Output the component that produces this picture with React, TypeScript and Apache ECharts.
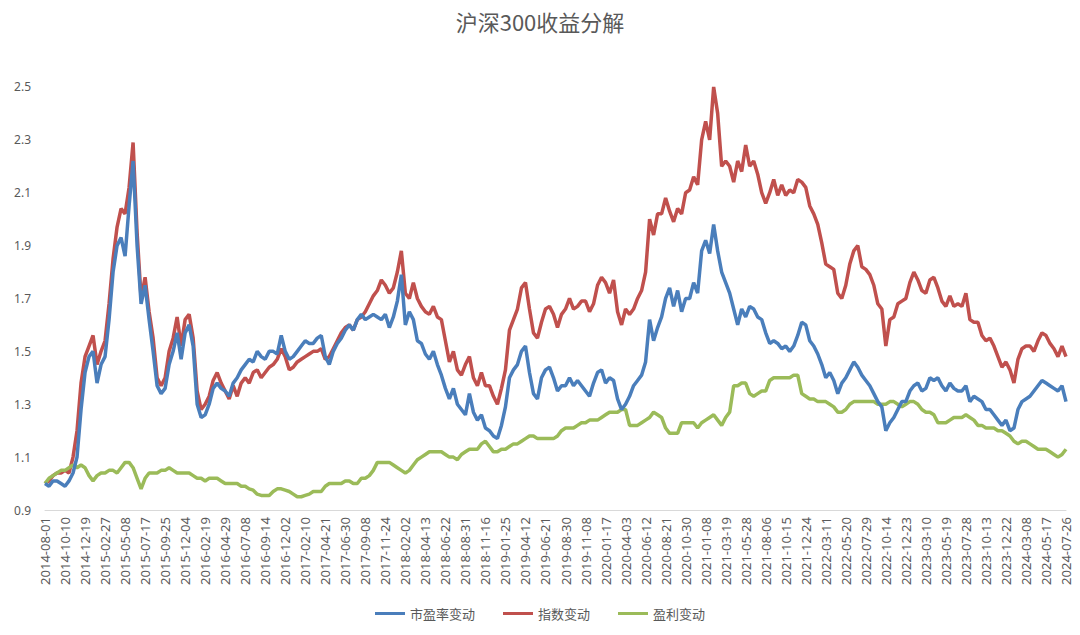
import React, { useEffect, useRef } from "react";
import * as echarts from "echarts";

// Tick labels shown on the x axis (every 10 weeks)
const tickLabels = [
  "2014-08-01", "2014-10-10", "2014-12-19", "2015-02-27", "2015-05-08", "2015-07-17",
  "2015-09-25", "2015-12-04", "2016-02-19", "2016-04-29", "2016-07-08", "2016-09-14",
  "2016-12-02", "2017-02-10", "2017-04-21", "2017-06-30", "2017-09-08", "2017-11-24",
  "2018-02-02", "2018-04-13", "2018-06-22", "2018-08-31", "2018-11-16", "2019-01-25",
  "2019-04-12", "2019-06-21", "2019-08-30", "2019-11-08", "2020-01-17", "2020-04-03",
  "2020-06-12", "2020-08-21", "2020-10-30", "2021-01-08", "2021-03-19", "2021-05-28",
  "2021-08-06", "2021-10-15", "2021-12-24", "2022-03-11", "2022-05-20", "2022-07-29",
  "2022-10-14", "2022-12-23", "2023-03-10", "2023-05-19", "2023-07-28", "2023-10-13",
  "2023-12-22", "2024-03-08", "2024-05-17", "2024-07-26",
];

// 市盈率变动 (bi-weekly samples)
const peChange = [
  1.00, 0.99, 1.01, 1.01, 1.00,
  0.99, 1.01, 1.04, 1.10, 1.28,
  1.42, 1.48, 1.50, 1.38, 1.45,
  1.48, 1.62, 1.80, 1.90, 1.93,
  1.86, 2.05, 2.22, 1.90, 1.68,
  1.75, 1.62, 1.50, 1.37, 1.34,
  1.36, 1.45, 1.50, 1.57, 1.47,
  1.57, 1.60, 1.52, 1.30, 1.25,
  1.26, 1.30, 1.36, 1.38, 1.36,
  1.35, 1.33, 1.38, 1.40, 1.43,
  1.45, 1.47, 1.46, 1.50, 1.48,
  1.47, 1.50, 1.50, 1.49, 1.56,
  1.50, 1.47, 1.48, 1.50, 1.52,
  1.54, 1.53, 1.53, 1.55, 1.56,
  1.48, 1.45, 1.50, 1.53, 1.55,
  1.58, 1.60, 1.58, 1.62, 1.64,
  1.62, 1.63, 1.64, 1.63, 1.62,
  1.64, 1.59, 1.63, 1.69, 1.79,
  1.60, 1.65, 1.62, 1.54, 1.53,
  1.49, 1.47, 1.50, 1.45, 1.41,
  1.36, 1.32, 1.36, 1.30, 1.28,
  1.26, 1.34, 1.27, 1.24, 1.26,
  1.21, 1.20, 1.18, 1.17, 1.22,
  1.29, 1.40, 1.43, 1.45, 1.50,
  1.52, 1.42, 1.34, 1.32, 1.40,
  1.43, 1.44, 1.40, 1.35, 1.37,
  1.37, 1.40, 1.37, 1.39, 1.37,
  1.35, 1.33, 1.38, 1.42, 1.43,
  1.38, 1.40, 1.39, 1.32, 1.28,
  1.30, 1.33, 1.37, 1.39, 1.41,
  1.46, 1.62, 1.54, 1.59, 1.63,
  1.70, 1.74, 1.67, 1.73, 1.65,
  1.70, 1.70, 1.76, 1.72, 1.88,
  1.92, 1.87, 1.98, 1.88, 1.80,
  1.76, 1.72, 1.66, 1.60, 1.66,
  1.63, 1.67, 1.66, 1.63, 1.62,
  1.57, 1.53, 1.54, 1.53, 1.51,
  1.52, 1.50, 1.52, 1.56, 1.61,
  1.60, 1.54, 1.52, 1.49, 1.45,
  1.40, 1.42, 1.39, 1.34, 1.38,
  1.40, 1.43, 1.46, 1.44, 1.41,
  1.39, 1.37, 1.34, 1.31, 1.29,
  1.20, 1.23, 1.25, 1.28, 1.31,
  1.31, 1.35, 1.37, 1.38, 1.35,
  1.36, 1.40, 1.39, 1.40, 1.37,
  1.35, 1.38, 1.36, 1.35, 1.35,
  1.37, 1.31, 1.33, 1.32, 1.31,
  1.28, 1.28, 1.26, 1.24, 1.22,
  1.24, 1.20, 1.21, 1.28, 1.31,
  1.32, 1.33, 1.35, 1.37, 1.39,
  1.38, 1.37, 1.36, 1.35, 1.37,
  1.31,
];

// 指数变动
const indexChange = [
  1.00, 1.01, 1.03, 1.04, 1.04,
  1.05, 1.04, 1.10, 1.20, 1.38,
  1.48, 1.52, 1.56, 1.45, 1.50,
  1.54, 1.68, 1.85, 1.97, 2.04,
  2.02, 2.12, 2.29, 1.95, 1.70,
  1.78, 1.65, 1.55, 1.40, 1.37,
  1.40, 1.50, 1.55, 1.63, 1.52,
  1.62, 1.64, 1.55, 1.35, 1.28,
  1.30, 1.33, 1.39, 1.42, 1.38,
  1.35, 1.32, 1.37, 1.33, 1.38,
  1.40, 1.38, 1.42, 1.43, 1.40,
  1.42, 1.44, 1.45, 1.47, 1.51,
  1.48, 1.43, 1.44, 1.46, 1.47,
  1.48, 1.49, 1.50, 1.50, 1.51,
  1.47, 1.48, 1.51, 1.54, 1.57,
  1.59, 1.60, 1.58, 1.62, 1.63,
  1.65, 1.68, 1.71, 1.73, 1.77,
  1.75, 1.72, 1.74, 1.80, 1.88,
  1.72, 1.70, 1.76, 1.70, 1.67,
  1.65, 1.64, 1.67, 1.63, 1.62,
  1.54, 1.46, 1.50, 1.43, 1.41,
  1.45, 1.48, 1.40, 1.37, 1.42,
  1.37, 1.37, 1.33, 1.30, 1.36,
  1.43, 1.58, 1.62, 1.66, 1.74,
  1.76, 1.66, 1.57, 1.55, 1.61,
  1.66, 1.67, 1.64, 1.59, 1.64,
  1.66, 1.70, 1.66, 1.67, 1.69,
  1.69, 1.65, 1.68, 1.75, 1.78,
  1.76, 1.72, 1.77, 1.65, 1.60,
  1.66, 1.64, 1.66, 1.70, 1.73,
  1.80, 2.00, 1.94, 2.02, 2.02,
  2.08, 2.03, 1.99, 2.04, 2.02,
  2.10, 2.11, 2.16, 2.13, 2.30,
  2.37, 2.30, 2.50, 2.40, 2.20,
  2.22, 2.20, 2.14, 2.22, 2.18,
  2.28, 2.20, 2.22, 2.17, 2.10,
  2.06, 2.10, 2.15, 2.09, 2.13,
  2.09, 2.11, 2.10, 2.15, 2.14,
  2.12, 2.05, 2.02, 1.98, 1.91,
  1.83, 1.82, 1.81, 1.72, 1.70,
  1.75, 1.83, 1.88, 1.90, 1.82,
  1.81, 1.79, 1.75, 1.68, 1.66,
  1.52, 1.62, 1.63, 1.68, 1.69,
  1.70, 1.76, 1.80, 1.77, 1.73,
  1.72, 1.77, 1.78, 1.74, 1.69,
  1.67, 1.71, 1.67, 1.68, 1.67,
  1.72, 1.62, 1.61, 1.61, 1.56,
  1.54, 1.55, 1.52, 1.48, 1.44,
  1.46, 1.43, 1.38, 1.47, 1.51,
  1.52, 1.52, 1.50, 1.54, 1.57,
  1.56, 1.53, 1.51, 1.48, 1.52,
  1.48,
];

// 盈利变动
const earningsChange = [
  1.00, 1.02, 1.03, 1.04, 1.05,
  1.05, 1.06, 1.07, 1.06, 1.07,
  1.06, 1.03, 1.01, 1.03, 1.04,
  1.04, 1.05, 1.05, 1.04, 1.06,
  1.08, 1.08, 1.06, 1.02, 0.98,
  1.02, 1.04, 1.04, 1.04, 1.05,
  1.05, 1.06, 1.05, 1.04, 1.04,
  1.04, 1.04, 1.03, 1.02, 1.02,
  1.01, 1.02, 1.02, 1.02, 1.01,
  1.00, 1.00, 1.00, 1.00, 0.99,
  0.99, 0.98, 0.975, 0.96, 0.955,
  0.955, 0.955, 0.97, 0.98, 0.98,
  0.975, 0.97, 0.96, 0.95, 0.95,
  0.955, 0.96, 0.97, 0.97, 0.97,
  0.99, 1.00, 1.00, 1.00, 1.00,
  1.01, 1.01, 1.00, 1.00, 1.02,
  1.02, 1.03, 1.05, 1.08, 1.08,
  1.08, 1.08, 1.07, 1.06, 1.05,
  1.04, 1.05, 1.07, 1.09, 1.10,
  1.11, 1.12, 1.12, 1.12, 1.12,
  1.11, 1.10, 1.10, 1.09, 1.11,
  1.12, 1.13, 1.13, 1.13, 1.15,
  1.16, 1.14, 1.12, 1.12, 1.13,
  1.13, 1.14, 1.15, 1.15, 1.16,
  1.17, 1.18, 1.18, 1.17, 1.17,
  1.17, 1.17, 1.17, 1.18, 1.20,
  1.21, 1.21, 1.21, 1.22, 1.23,
  1.23, 1.24, 1.24, 1.24, 1.25,
  1.26, 1.27, 1.27, 1.27, 1.28,
  1.28, 1.22, 1.22, 1.22, 1.23,
  1.24, 1.25, 1.27, 1.26, 1.25,
  1.21, 1.19, 1.19, 1.19, 1.23,
  1.23, 1.23, 1.23, 1.21, 1.23,
  1.24, 1.25, 1.26, 1.24, 1.22,
  1.25, 1.27, 1.37, 1.37, 1.38,
  1.38, 1.34, 1.33, 1.34, 1.35,
  1.35, 1.39, 1.40, 1.40, 1.40,
  1.40, 1.40, 1.41, 1.41, 1.34,
  1.33, 1.32, 1.32, 1.31, 1.31,
  1.31, 1.30, 1.29, 1.27, 1.27,
  1.28, 1.30, 1.31, 1.31, 1.31,
  1.31, 1.31, 1.31, 1.30, 1.30,
  1.30, 1.31, 1.31, 1.30, 1.29,
  1.30, 1.31, 1.31, 1.30, 1.28,
  1.27, 1.27, 1.26, 1.23, 1.23,
  1.23, 1.24, 1.25, 1.25, 1.25,
  1.26, 1.25, 1.24, 1.22, 1.22,
  1.21, 1.21, 1.21, 1.20, 1.20,
  1.19, 1.18, 1.16, 1.15, 1.16,
  1.16, 1.15, 1.14, 1.13, 1.13,
  1.13, 1.12, 1.11, 1.10, 1.11,
  1.13,
];

const seriesNames = ["市盈率变动", "指数变动", "盈利变动"];
const seriesColors = ["#4a7ebb", "#c0504d", "#9bbb59"];

// Category dates: each tick label followed by four bi-weekly dates
function buildCategories(): string[] {
  const out: string[] = [];
  tickLabels.forEach((d, k) => {
    out.push(d);
    if (k < tickLabels.length - 1) {
      const base = new Date(d + "T00:00:00Z").getTime();
      for (let j = 1; j < 5; j++) {
        out.push(new Date(base + j * 14 * 86400000).toISOString().slice(0, 10));
      }
    }
  });
  return out;
}

export default function App() {
  const ref = useRef<HTMLDivElement>(null);

  useEffect(() => {
    document.body.style.margin = "0";
    if (!ref.current) return;
    const chart = echarts.init(ref.current, null, { renderer: "svg" });
    const categories = buildCategories();
    const dataSets = [peChange, indexChange, earningsChange];
    const txt = "#595959";

    chart.setOption({
      animation: false,
      backgroundColor: "#ffffff",
      title: {
        text: "沪深300收益分解",
        left: "center",
        top: 5,
        textStyle: {
          fontFamily: "Noto Sans CJK SC",
          fontSize: 22,
          fontWeight: "normal",
          color: txt,
        },
      },
      legend: {
        bottom: 10,
        left: "center",
        icon: "rect",
        itemWidth: 30,
        itemHeight: 3,
        itemGap: 28,
        textStyle: { fontFamily: "Noto Sans CJK SC", fontSize: 13, color: txt },
        data: seriesNames,
      },
      grid: { left: 45, right: 14, top: 60.5, bottom: 125, containLabel: false },
      xAxis: {
        type: "category",
        data: categories,
        boundaryGap: false,
        axisLine: { lineStyle: { color: "#d9d9d9", width: 1 } },
        axisTick: { show: false },
        axisLabel: {
          interval: 4,
          rotate: 90,
          margin: 7,
          fontFamily: "Noto Sans",
          fontSize: 13,
          color: txt,
        },
        splitLine: { show: false },
      },
      yAxis: {
        type: "value",
        min: 0.9,
        max: 2.6,
        interval: 0.2,
        axisLine: { show: false },
        axisTick: { show: false },
        splitLine: { show: false },
        axisLabel: {
          showMaxLabel: false,
          margin: 14,
          fontFamily: "Noto Sans",
          fontSize: 12,
          color: txt,
          formatter: (v: number) => v.toFixed(1),
        },
      },
      series: seriesNames.map((name, i) => ({
        name,
        type: "line",
        data: dataSets[i],
        showSymbol: false,
        symbol: "none",
        lineStyle: { width: 3.5, color: seriesColors[i] },
        itemStyle: { color: seriesColors[i] },
        z: i === 2 ? 3 : i === 0 ? 4 : 2,
      })),
    });

    return () => chart.dispose();
  }, []);

  return <div ref={ref} style={{ width: 1080, height: 635 }} />;
}
